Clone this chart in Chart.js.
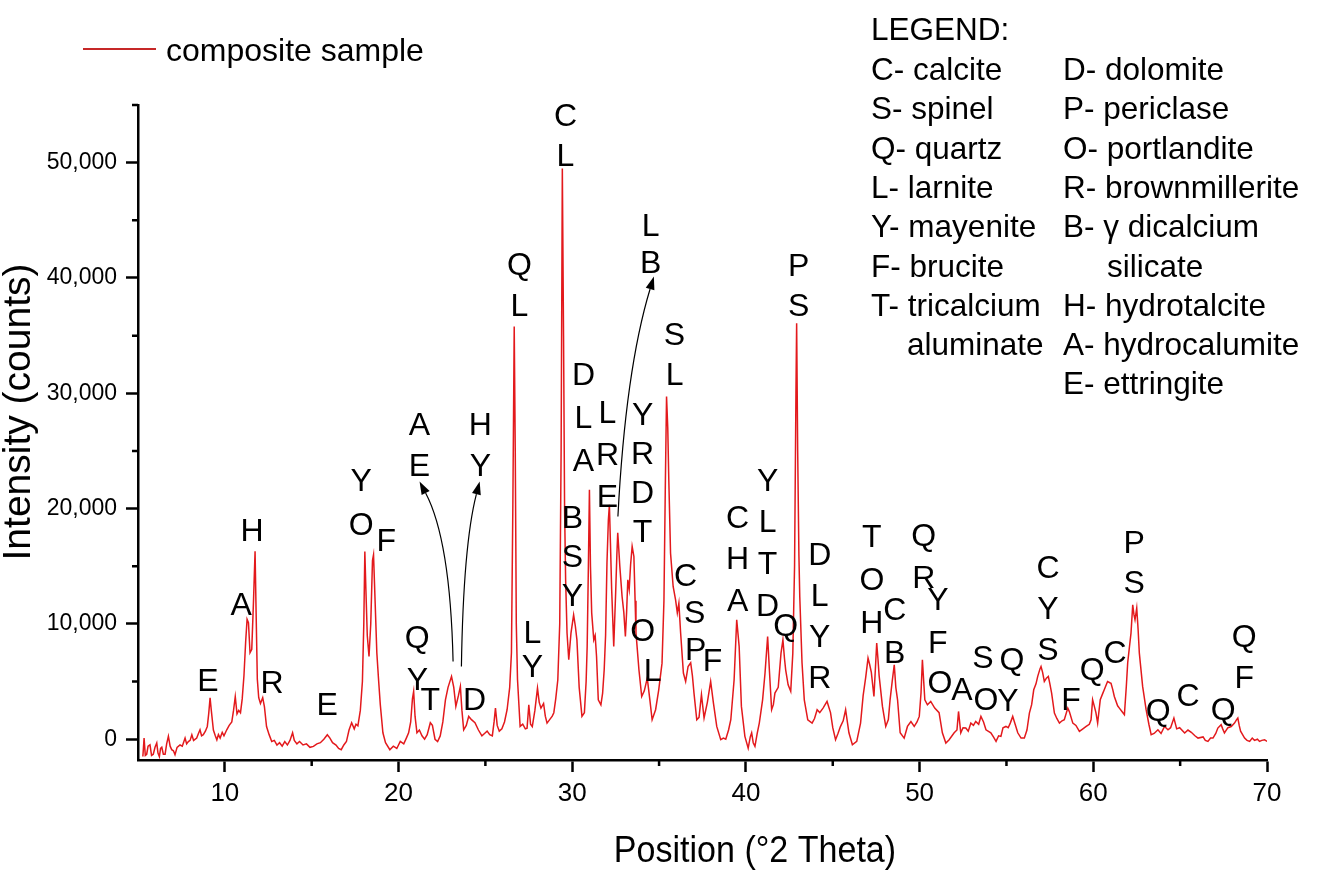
<!doctype html>
<html lang="en">
<head>
<meta charset="utf-8">
<title>XRD pattern - composite sample</title>
<script src="https://cdn.jsdelivr.net/npm/chart.js"></script>
<style>
  html, body { margin: 0; padding: 0; background: #fff; }
</style>
</head>
<body>
<canvas id="xrd" width="1321" height="871"></canvas>
<script>
// 2 theta positions and intensities (rows of 10)
const twoTheta = [
  5.28, 5.35, 5.42, 5.50, 5.58, 5.69, 5.78, 5.88, 5.98, 6.08,
  6.15, 6.23, 6.30, 6.37, 6.46, 6.56, 6.65, 6.75, 6.85, 6.94,
  7.04, 7.13, 7.25, 7.42, 7.55, 7.71, 7.80, 7.90, 8.00, 8.10,
  8.20, 8.38, 8.48, 8.57, 8.66, 8.76, 8.88, 8.99, 9.07, 9.15,
  9.22, 9.34, 9.45, 9.54, 9.63, 9.73, 9.85, 9.95, 10.11, 10.25,
  10.40, 10.50, 10.60, 10.70, 10.80, 10.90, 11.00, 11.10, 11.20, 11.28,
  11.36, 11.45, 11.55, 11.65, 11.74, 11.80, 11.87, 11.95, 12.05, 12.18,
  12.28, 12.40, 12.55, 12.70, 12.85, 13.00, 13.15, 13.30, 13.45, 13.60,
  13.75, 13.90, 14.00, 14.15, 14.30, 14.50, 14.70, 14.90, 15.10, 15.30,
  15.50, 15.70, 15.90, 16.05, 16.20, 16.40, 16.55, 16.70, 16.85, 17.00,
  17.15, 17.30, 17.45, 17.55, 17.66, 17.80, 17.92, 18.00, 18.06, 18.12,
  18.20, 18.30, 18.40, 18.50, 18.56, 18.65, 18.75, 18.85, 18.95, 19.10,
  19.25, 19.50, 19.70, 19.90, 20.10, 20.30, 20.45, 20.58, 20.70, 20.80,
  20.87, 20.95, 21.06, 21.20, 21.35, 21.50, 21.65, 21.83, 21.95, 22.10,
  22.25, 22.40, 22.55, 22.70, 22.85, 23.05, 23.18, 23.30, 23.45, 23.56,
  23.65, 23.75, 23.90, 24.04, 24.20, 24.40, 24.60, 24.80, 24.95, 25.10,
  25.25, 25.40, 25.50, 25.58, 25.68, 25.80, 25.95, 26.10, 26.25, 26.40,
  26.50, 26.58, 26.66, 26.72, 26.78, 26.85, 27.00, 27.15, 27.30, 27.40,
  27.50, 27.60, 27.70, 27.85, 28.00, 28.10, 28.20, 28.35, 28.45, 28.55,
  28.70, 28.85, 28.94, 29.05, 29.17, 29.28, 29.36, 29.43, 29.50, 29.56,
  29.62, 29.70, 29.80, 29.93, 30.08, 30.18, 30.27, 30.40, 30.56, 30.70,
  30.80, 30.86, 30.93, 30.99, 31.05, 31.12, 31.24, 31.32, 31.40, 31.50,
  31.65, 31.75, 31.84, 31.92, 32.00, 32.08, 32.14, 32.20, 32.27, 32.39,
  32.50, 32.57, 32.62, 32.68, 32.74, 32.87, 32.97, 33.06, 33.13, 33.20,
  33.28, 33.36, 33.45, 33.55, 33.62, 33.67, 33.84, 34.00, 34.15, 34.32,
  34.47, 34.60, 34.80, 34.98, 35.17, 35.28, 35.36, 35.43, 35.50, 35.56,
  35.66, 35.81, 35.95, 36.05, 36.14, 36.24, 36.40, 36.53, 36.67, 36.82,
  36.92, 37.01, 37.17, 37.30, 37.44, 37.59, 37.78, 37.97, 38.13, 38.32,
  38.55, 38.70, 38.84, 39.00, 39.13, 39.32, 39.47, 39.61, 39.74, 39.94,
  40.13, 40.25, 40.33, 40.42, 40.52, 40.65, 40.77, 40.96, 41.10, 41.25,
  41.36, 41.48, 41.58, 41.67, 41.86, 42.02, 42.13, 42.22, 42.29, 42.43,
  42.58, 42.70, 42.80, 42.88, 42.92, 42.98, 43.05, 43.10, 43.23, 43.36,
  43.56, 43.81, 43.95, 44.10, 44.25, 44.44, 44.67, 44.87, 45.00, 45.16,
  45.30, 45.44, 45.60, 45.74, 45.85, 45.93, 46.13, 46.38, 46.60, 46.75,
  46.90, 47.03, 47.12, 47.22, 47.37, 47.45, 47.53, 47.60, 47.67, 47.86,
  48.05, 48.20, 48.30, 48.42, 48.54, 48.63, 48.73, 48.88, 49.11, 49.30,
  49.50, 49.69, 49.85, 49.98, 50.08, 50.16, 50.30, 50.45, 50.64, 50.87,
  51.12, 51.31, 51.51, 51.70, 51.99, 52.15, 52.24, 52.37, 52.50, 52.66,
  52.80, 52.95, 53.10, 53.23, 53.40, 53.53, 53.68, 53.82, 54.10, 54.25,
  54.40, 54.55, 54.68, 54.80, 54.97, 55.10, 55.22, 55.36, 55.50, 55.65,
  55.84, 56.03, 56.18, 56.32, 56.45, 56.57, 56.70, 56.80, 56.93, 56.99,
  57.08, 57.18, 57.30, 57.41, 57.50, 57.60, 57.76, 57.90, 58.05, 58.20,
  58.33, 58.53, 58.62, 58.82, 59.00, 59.20, 59.40, 59.59, 59.77, 59.87,
  59.96, 60.06, 60.15, 60.25, 60.40, 60.55, 60.63, 60.82, 60.95, 61.02,
  61.12, 61.21, 61.40, 61.50, 61.65, 61.79, 61.90, 61.98, 62.08, 62.17,
  62.27, 62.34, 62.40, 62.50, 62.58, 62.65, 62.84, 63.04, 63.20, 63.33,
  63.50, 63.72, 63.90, 64.10, 64.30, 64.45, 64.64, 64.80, 64.97, 65.26,
  65.45, 65.64, 65.85, 66.03, 66.32, 66.45, 66.60, 66.75, 66.89, 67.05,
  67.17, 67.36, 67.45, 67.55, 67.75, 67.94, 68.13, 68.25, 68.32, 68.40,
  68.48, 68.71, 68.85, 69.00, 69.15, 69.28, 69.45, 69.57, 69.70, 69.86,
  70.00
];
const counts = [
  -1500, 100, -1400, -1300, -600, -480, -1400, -1300, -700, -330,
  -1200, -1500, -800, -700, -1300, -1300, -400, 250, -600, -900,
  -1000, -1340, -700, -500, -600, 100, -400, -200, -100, 390,
  -100, 100, 500, 820, 300, 390, 700, 1110, 2200, 3600,
  2500, 800, 300, -50, 400, 100, 600, 300, 820, 1200,
  1500, 2500, 3700, 2200, 2500, 2300, 3500, 5500, 8500, 10400,
  10100, 7500, 7800, 12000, 16300, 11000, 5200, 3600, 3100, 3600,
  2800, 1100, 400, -200, -100, -500, -300, -600, -200, -500,
  -100, 560, -100, -400, -200, -500, -400, -700, -620, -400,
  -300, 0, 390, 100, -300, -500, -800, -910, -500, -200,
  800, 1430, 900, 1300, 1160, 2500, 5000, 10000, 16280, 13000,
  9000, 7180, 10000, 15500, 16000, 12000, 7500, 5160, 3000, 560,
  -300, -910, -600, -800, -190, -400, 100, 560, 1500, 3500,
  4150, 2000, 560, 800, 300, 0, 400, 1430, 1200, 0,
  -200, 290, 1500, 3420, 4500, 5450, 4500, 2850, 3800, 4580,
  2500, 820, 1200, 1980, 1700, 1430, 800, 290, 500, 700,
  400, 290, 1500, 2700, 1200, 700, 900, 1500, 2560, 4500,
  7500, 20000, 35800, 25000, 10000, 5160, 1110, 1300, 900, 960,
  2990, 1300, 1100, 2500, 4440, 3200, 2700, 3100, 2000, 1400,
  1700, 2000, 2300, 3500, 5160, 10000, 25000, 49500, 35000, 20000,
  13830, 9230, 6890, 9230, 10790, 9800, 8620, 4500, 1980, 2300,
  5000, 8050, 15000, 21630, 15000, 10960, 8620, 9000, 7180, 3420,
  2990, 4000, 6025, 9000, 15300, 19000, 20330, 17000, 13000, 8050,
  12700, 16000, 17900, 16500, 14990, 12380, 11000, 8910, 11000, 13830,
  13000, 15130, 16720, 15850, 12000, 9230, 6025, 3710, 4200, 5300,
  3420, 1690, 2560, 4290, 6600, 12000, 22000, 29720, 27000, 22500,
  16140, 13250, 12090, 10960, 11800, 9230, 5740, 5010, 6310, 6630,
  5500, 4000, 1690, 1900, 3860, 1840, 3200, 5010, 3140, 1110,
  -40, 100, 0, 800, 1690, 5160, 10360, 8050, 2850, 250,
  -770, 200, 560, -300, -620, 500, 1400, 3420, 5740, 8910,
  5740, 2560, 3000, 4000, 4500, 7470, 8620, 7000, 6000, 4720,
  4150, 7470, 15000, 30000, 36080, 25000, 16000, 12380, 6630, 3420,
  1690, 1400, 1800, 2560, 2310, 2700, 3280, 2310, 1000, -40,
  500, 1100, 1600, 2560, 1400, 560, -480, -190, 1400, 3800,
  5400, 7040, 6500, 5800, 3710, 6000, 8340, 7000, 5500, 2850,
  1110, 1700, 3420, 5000, 6460, 4500, 3420, 560, 100, 1110,
  1540, 1110, 1500, 1980, 4000, 6890, 3420, 2990, 3280, 2700,
  2310, 560, -330, -40, 560, 800, 2410, 560, 1000, 980,
  700, 1400, 1200, 1540, 1300, 1980, 1500, 820, 560, 200,
  -190, 300, 250, 1000, 1110, 1000, 1400, 1980, 1300, 560,
  100, 100, 800, 2270, 3000, 4290, 4800, 5450, 6100, 6310,
  5800, 5010, 5300, 5450, 4800, 4000, 2270, 1800, 1400, 1600,
  1690, 2700, 2400, 1400, 1200, 680, 900, 1110, 1300, 1690,
  3420, 2850, 2310, 1400, 3420, 4000, 4290, 5010, 4900, 4860,
  4300, 3710, 2900, 2700, 2400, 2120, 4580, 6630, 8000, 9200,
  11660, 10800, 10360, 11370, 9500, 7470, 4580, 2560, 1300, 390,
  500, 820, 500, 1110, 820, 1000, 1840, 900, 1000, 540,
  800, 600, 300, 100, 200, -100, -190, 100, 100, 500,
  970, 1260, 900, 540, 1000, 1100, 1400, 1700, 1840, 1200,
  700, 100, -100, -190, 100, -100, 0, -190, -100, -40,
  -190
];

const xTicks = [10, 20, 30, 40, 50, 60, 70];
const xMinorTicks = [15, 25, 35, 45, 55, 65];
const yTicks = [0, 10000, 20000, 30000, 40000, 50000];
const yMinorTicks = [5000, 15000, 25000, 35000, 45000, 55000];

// phase letters: [2 theta, counts at top of first letter, letters, line gap px]
const peakLabels = [
  [9.03, 6200, 'E'], [10.94, 12790, 'A'], [11.57, 19200, 'H'], [12.72, 6030, 'R'],
  [15.89, 4120, 'E'], [17.85, 23540, 'YO', 44], [19.29, 18340, 'F'],
  [21.08, 9930, 'QY', 42], [21.83, 4550, 'T'], [21.2, 28390, 'AE', 41],
  [24.71, 28390, 'HY', 41], [24.37, 4550, 'D'], [27.71, 10360, 'LY', 34],
  [26.96, 42270, 'QL', 41], [29.61, 55180, 'CL', 40], [30.65, 32730, 'DLA', 43],
  [30.01, 20330, 'BSY', 39], [32.03, 29430, 'LRE', 42], [34.05, 29260, 'YRDT', 39],
  [34.51, 45650, 'LB', 37], [35.89, 36200, 'SL', 40], [43.04, 42180, 'PS', 40],
  [34.05, 10530, 'O'], [34.63, 7070, 'L'], [36.53, 15300, 'C'], [37.05, 12090, 'S'],
  [37.1, 8890, 'P'], [38.08, 7930, 'F'], [39.52, 20330, 'CHA', 41.5],
  [41.25, 23540, 'YLTD', 41.7], [42.29, 10970, 'Q'], [44.25, 17120, 'DLYR', 41],
  [47.25, 18680, 'TOH', 43], [48.57, 12350, 'CB', 43], [50.24, 18770, 'QR', 42],
  [51.05, 13220, 'YF', 43], [51.17, 6030, 'O'], [52.43, 5420, 'A'], [53.65, 8190, 'S'],
  [53.82, 4550, 'O'], [55.32, 8020, 'Q'], [55.09, 4470, 'Y'], [57.39, 16000, 'CYS', 41],
  [58.72, 4550, 'F'], [59.93, 7150, 'Q'], [61.25, 8630, 'C'], [62.35, 18160, 'PS', 40],
  [63.73, 3600, 'Q'], [65.46, 4900, 'C'], [67.48, 3680, 'Q'], [68.69, 10010, 'QF', 41]
];

// curved arrows: start, control, tip (2 theta, counts)
const arrows = [
  [[23.14, 6745], [22.98, 17300], [21.21, 22350]],
  [[23.62, 6310], [23.73, 16860], [24.67, 22350]],
  [[32.63, 19320], [33.07, 32040], [34.70, 40120]]
];

const legendLeft = ['C- calcite', 'S- spinel', 'Q- quartz', 'L- larnite', 'Y- mayenite', 'F- brucite', 'T- tricalcium', ' aluminate'];
const legendRight = ['D- dolomite', 'P- periclase', 'O- portlandite', 'R- brownmillerite', 'B- γ dicalcium', ' silicate', 'H- hydrotalcite', 'A- hydrocalumite', 'E- ettringite'];

const FONT = '"Liberation Sans", Arial, Helvetica, sans-serif';

function putText(ctx, str, x, y, size, align, sx) {
  ctx.save();
  ctx.font = size + 'px ' + FONT;
  ctx.textAlign = align || 'left';
  ctx.textBaseline = 'alphabetic';
  ctx.translate(x, y);
  ctx.scale(sx || 1, 1);
  ctx.fillText(str, 0, 0);
  ctx.restore();
}

const overlay = {
  id: 'overlay',
  afterDraw(chart) {
    const ctx = chart.ctx;
    const xs = chart.scales.x, ys = chart.scales.y;
    const area = chart.chartArea;
    ctx.save();
    ctx.fillStyle = '#000';
    ctx.strokeStyle = '#000';

    // minor ticks
    ctx.lineWidth = 2.5;
    ctx.beginPath();
    xMinorTicks.forEach(v => {
      const px = xs.getPixelForValue(v);
      ctx.moveTo(px, area.bottom); ctx.lineTo(px, area.bottom + 6);
    });
    yMinorTicks.forEach(v => {
      const py = ys.getPixelForValue(v);
      ctx.moveTo(area.left, py); ctx.lineTo(area.left - 6, py);
    });
    ctx.stroke();

    // arrows
    ctx.lineWidth = 1.2;
    arrows.forEach(a => {
      const p = a.map(q => [xs.getPixelForValue(q[0]), ys.getPixelForValue(q[1])]);
      const ang = Math.atan2(p[2][1] - p[1][1], p[2][0] - p[1][0]);
      const back = [p[2][0] - 13 * Math.cos(ang), p[2][1] - 13 * Math.sin(ang)];
      ctx.beginPath();
      ctx.moveTo(p[0][0], p[0][1]);
      ctx.quadraticCurveTo(p[1][0], p[1][1], back[0], back[1]);
      ctx.stroke();
      ctx.beginPath();
      ctx.moveTo(p[2][0], p[2][1]);
      ctx.lineTo(back[0] + 4.5 * Math.sin(ang), back[1] - 4.5 * Math.cos(ang));
      ctx.lineTo(back[0] - 4.5 * Math.sin(ang), back[1] + 4.5 * Math.cos(ang));
      ctx.closePath();
      ctx.fill();
    });

    // phase letters
    const size = 32, cap = size * 0.716;
    peakLabels.forEach(l => {
      const px = xs.getPixelForValue(l[0]);
      const top = ys.getPixelForValue(l[1]);
      const gap = l[3] || 41;
      l[2].split('').forEach((ch, i) => putText(ctx, ch, px, top + cap + i * gap, size, 'center'));
    });

    // series legend, top left
    ctx.strokeStyle = '#c62828';
    ctx.lineWidth = 2;
    ctx.beginPath(); ctx.moveTo(83, 49); ctx.lineTo(156, 49); ctx.stroke();
    putText(ctx, 'composite sample', 166, 61, 32);

    // phase legend, top right
    putText(ctx, 'LEGEND:', 871, 40, 31.5);
    legendLeft.forEach((t, i) => {
      const indent = t.startsWith(' ');
      putText(ctx, t.trim(), indent ? 907 : 871, 80 + i * 39.3, 31.5);
    });
    legendRight.forEach((t, i) => {
      const indent = t.startsWith(' ');
      putText(ctx, t.trim(), indent ? 1107 : 1063, 80 + i * 39.3, 31.5);
    });

    // axis titles
    putText(ctx, 'Position (°2 Theta)', 755, 862, 37, 'center', 0.92);
    ctx.save();
    ctx.font = '39px ' + FONT;
    ctx.textAlign = 'center';
    ctx.translate(30, 412);
    ctx.rotate(-Math.PI / 2);
    ctx.fillText('Intensity (counts)', 0, 0);
    ctx.restore();

    ctx.restore();
  }
};

Chart.defaults.font.family = FONT;
Chart.defaults.color = '#000';

new Chart(document.getElementById('xrd'), {
  type: 'line',
  data: {
    datasets: [{
      label: 'composite sample',
      data: twoTheta.map((t, i) => ({ x: t, y: counts[i] })),
      borderColor: '#e3191c',
      borderWidth: 1.5,
      pointRadius: 0,
      tension: 0
    }]
  },
  plugins: [overlay],
  options: {
    responsive: false,
    animation: false,
    layout: { padding: { top: 105, right: 54, left: 0, bottom: 0 } },
    plugins: { legend: { display: false }, tooltip: { enabled: false } },
    scales: {
      x: {
        type: 'linear',
        min: 5,
        max: 70,
        afterBuildTicks: s => { s.ticks = xTicks.map(v => ({ value: v })); },
        afterFit: s => { s.height = 111; },
        grid: { drawOnChartArea: false, drawTicks: true, tickLength: 12, tickWidth: 2.5, tickColor: '#000' },
        border: { display: true, color: '#000', width: 2.5 },
        ticks: { font: { size: 26 }, padding: 6, maxRotation: 0, color: '#000' }
      },
      y: {
        min: -1800,
        max: 55000,
        afterBuildTicks: s => { s.ticks = yTicks.map(v => ({ value: v })); },
        afterFit: s => { s.width = 138; },
        grid: { drawOnChartArea: false, drawTicks: true, tickLength: 12, tickWidth: 2.5, tickColor: '#000' },
        border: { display: true, color: '#000', width: 2.5 },
        ticks: { font: { size: 23 }, padding: 9, color: '#000', callback: v => v.toLocaleString('en-US') }
      }
    }
  }
});
</script>
</body>
</html>
